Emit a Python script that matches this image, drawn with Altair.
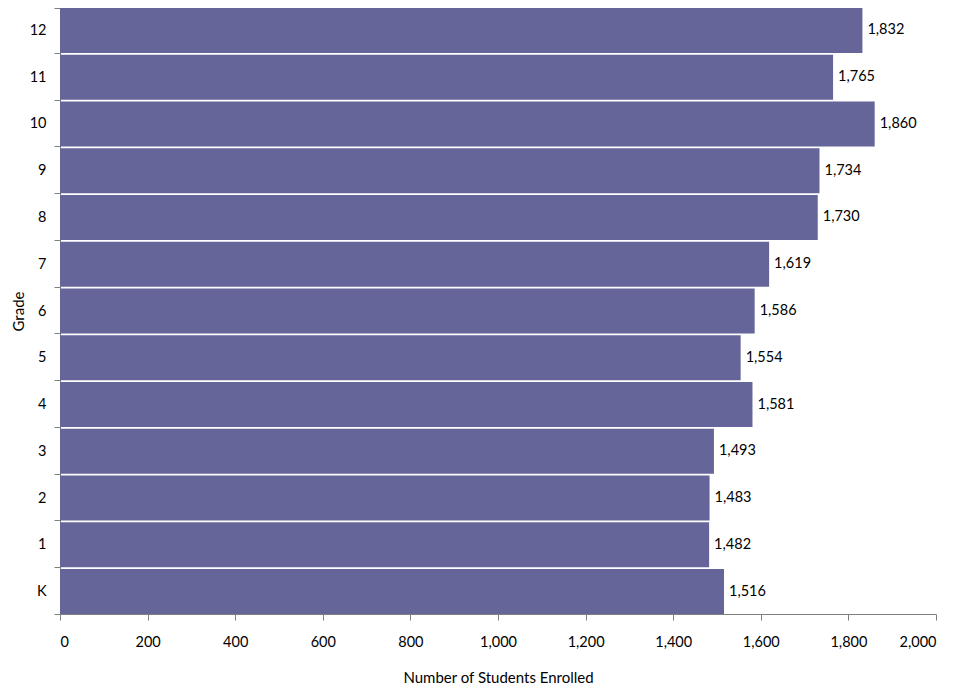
import altair as alt
import pandas as pd

grades = ["12", "11", "10", "9", "8", "7", "6", "5", "4", "3", "2", "1", "K"]
enrolled = [1832, 1765, 1860, 1734, 1730, 1619, 1586, 1554, 1581, 1493, 1483, 1482, 1516]
x_ticks = [0, 200, 400, 600, 800, 1000, 1200, 1400, 1600, 1800, 2000]

df = pd.DataFrame({"Grade": grades, "Enrolled": enrolled})

FONT = "Lato"
AXIS_COLOR = "#7f7f7f"
LABEL_SIZE = 14.5
TITLE_SIZE = 15

y_enc = alt.Y(
    "Grade:N",
    sort=grades,
    title="Grade",
    scale=alt.Scale(paddingInner=0.04, paddingOuter=0),
    axis=alt.Axis(
        tickBand="extent",
        tickSize=6,
        labelPadding=8,
        domainColor=AXIS_COLOR,
        tickColor=AXIS_COLOR,
        labelColor="#000000",
        labelFont=FONT,
        labelFontSize=LABEL_SIZE,
        titleFont=FONT,
        titleFontSize=TITLE_SIZE,
        titleFontWeight="normal",
        titleColor="#000000",
        titleAngle=270,
        titleX=-42,
        titleY=303,
        titleAlign="center",
        titleBaseline="middle",
    ),
)

x_enc = alt.X(
    "Enrolled:Q",
    title="Number of Students Enrolled",
    scale=alt.Scale(domain=[0, 2000], nice=False),
    axis=alt.Axis(
        values=x_ticks,
        format=",.0f",
        grid=False,
        tickSize=6,
        labelPadding=15,
        domainColor=AXIS_COLOR,
        tickColor=AXIS_COLOR,
        labelColor="#000000",
        labelFont=FONT,
        labelFontSize=LABEL_SIZE,
        titleFont=FONT,
        titleFontSize=TITLE_SIZE,
        titleFontWeight="normal",
        titleColor="#000000",
        titlePadding=22,
    ),
)

bars = alt.Chart(df).mark_bar(color="#65659a").encode(x=x_enc, y=y_enc)

labels = alt.Chart(df).mark_text(
    align="left", baseline="middle", dx=5, font=FONT, fontSize=LABEL_SIZE, color="#000000"
).encode(
    x=alt.X("Enrolled:Q"),
    y=alt.Y("Grade:N", sort=grades),
    text=alt.Text("Enrolled:Q", format=",.0f"),
)

chart = (
    alt.layer(bars, labels)
    .properties(
        width=876,
        height=606,
        autosize=alt.AutoSizeParams(type="none"),
        padding={"left": 52, "top": 0, "right": 12, "bottom": 72},
        background="#ffffff",
    )
    .configure_view(stroke=None)
)

chart.save("out.html", embed_options={"renderer": "svg", "actions": False})
